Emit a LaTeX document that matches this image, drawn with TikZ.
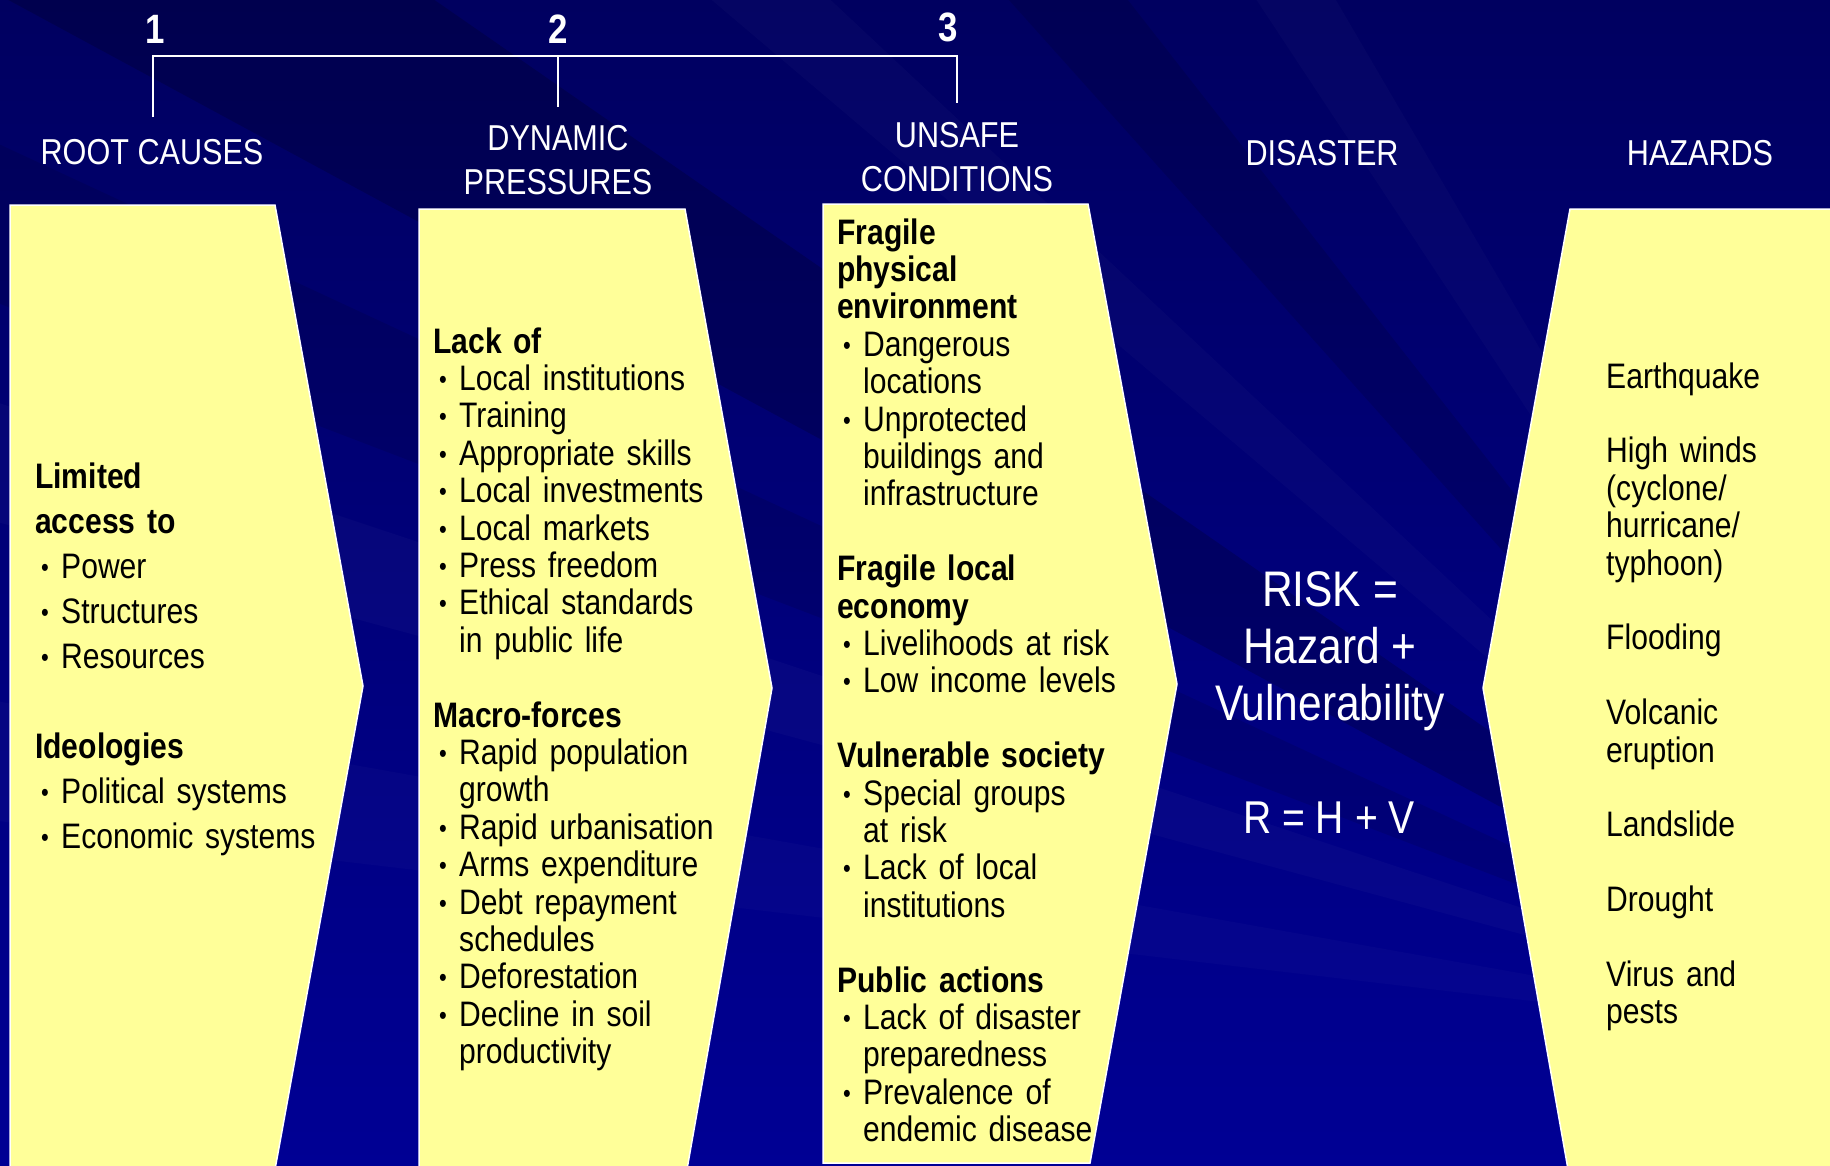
\documentclass[tikz,border=0pt]{standalone}
\usepackage{fontspec}
\setmainfont{Liberation Sans}[FakeStretch=0.85]
\definecolor{navydark}{RGB}{0,0,96}
\definecolor{navylight}{RGB}{0,0,148}
\definecolor{paleyellow}{RGB}{255,255,153}
% bullet and continuation indent for the column lists
\newcommand{\bl}{\hspace*{6pt}\makebox[20pt][l]{\fontsize{26}{26}\selectfont\raisebox{2pt}{•}}}
\newcommand{\cn}{\hspace*{26pt}}
\newcommand{\colgap}{37.4pt}
\begin{document}
\begin{tikzpicture}[x=1pt, y=-1pt,
    panel/.style={fill=paleyellow, draw=white, line width=1.5pt, line join=miter},
    head/.style={text=white, font=\fontsize{36}{44}\selectfont, align=center, inner sep=0pt},
    num/.style={text=white, font=\bfseries\fontsize{41}{41}\selectfont, inner sep=0pt, anchor=base},
    body/.style={text=black, font=\fontsize{35.4}{37.4}\selectfont, align=left, text width=400pt, inner sep=0pt, anchor=base west},
    risk/.style={text=white, font=\fontsize{50}{57}\selectfont, align=center, inner sep=0pt},
    bracket/.style={white, line width=2pt}
  ]
  \useasboundingbox (0,0) rectangle (1830,1165);

  % background with faint rays
  \shade[top color=navydark, bottom color=navylight] (0,0) rectangle (1830,1165);
  \coordinate (F) at (1950,1050);
  \fill[black, opacity=0.18] (F) -- (-10,-10) -- (420,-10) -- cycle;
  \fill[black, opacity=0.10] (F) -- (-10,140) -- (-10,300) -- cycle;
  \fill[white, opacity=0.025] (F) -- (-10,400) -- (-10,520) -- cycle;
  \fill[white, opacity=0.02] (F) -- (-10,700) -- (-10,820) -- cycle;
  \fill[white, opacity=0.02] (F) -- (700,-10) -- (820,-10) -- cycle;
  \fill[black, opacity=0.12] (F) -- (1000,-10) -- (1120,-10) -- cycle;
  \fill[white, opacity=0.02] (F) -- (1250,-10) -- (1330,-10) -- cycle;

  % yellow panels
  \draw[panel] (10,205) -- (275,205) -- (363,686) -- (274,1175) -- (10,1175) -- cycle;
  \draw[panel] (419,209) -- (685,209) -- (772,688) -- (686,1175) -- (419,1175) -- cycle;
  \draw[panel] (823,204) -- (1088,204) -- (1177,684) -- (1090,1163) -- (823,1163) -- cycle;
  \draw[panel] (1570,209) -- (1845,209) -- (1845,1175) -- (1569,1175) -- (1483,688) -- cycle;

  % numbers and headers
  \node[num] (n1) at (155,43) {1};
  \node[num] (n2) at (558,43) {2};
  \node[num] (n3) at (948,41) {3};
  \node[head] (h1) at (152,152) {ROOT CAUSES};
  \node[head] (h2) at (558,160) {DYNAMIC\\PRESSURES};
  \node[head] (h3) at (957,157) {UNSAFE\\CONDITIONS};
  \node[head] (h4) at (1322,153) {DISASTER};
  \node[head] (h5) at (1700,153) {HAZARDS};

  % bracket joining 1, 2, 3
  \coordinate (t1) at (153,56);
  \coordinate (t2) at (558,56);
  \coordinate (t3) at (957,56);
  \coordinate (k1) at (153,117);
  \coordinate (k2) at (558,107);
  \coordinate (k3) at (957,103);
  \draw[bracket] (k1) -- (t1) -- (t3) -- (k3);
  \draw[bracket] (t2) -- (k2);

  % column texts
  \node[body, font=\fontsize{35.4}{45}\selectfont] (roots) at (35,488) {%
    \textbf{Limited}\\
    \textbf{access to}\\
    \bl Power\\
    \bl Structures\\
    \bl Resources\\[45pt]
    \textbf{Ideologies}\\
    \bl Political systems\\
    \bl Economic systems};

  \node[body] (press) at (433,353) {%
    \textbf{Lack of}\\
    \bl Local institutions\\
    \bl Training\\
    \bl Appropriate skills\\
    \bl Local investments\\
    \bl Local markets\\
    \bl Press freedom\\
    \bl Ethical standards\\
    \cn in public life\\[\colgap]
    \textbf{Macro-forces}\\
    \bl Rapid population\\
    \cn growth\\
    \bl Rapid urbanisation\\
    \bl Arms expenditure\\
    \bl Debt repayment\\
    \cn schedules\\
    \bl Deforestation\\
    \bl Decline in soil\\
    \cn productivity};

  \node[body] (unsafe) at (837,244) {%
    \textbf{Fragile}\\
    \textbf{physical}\\
    \textbf{environment}\\
    \bl Dangerous\\
    \cn locations\\
    \bl Unprotected\\
    \cn buildings and\\
    \cn infrastructure\\[\colgap]
    \textbf{Fragile local}\\
    \textbf{economy}\\
    \bl Livelihoods at risk\\
    \bl Low income levels\\[\colgap]
    \textbf{Vulnerable society}\\
    \bl Special groups\\
    \cn at risk\\
    \bl Lack of local\\
    \cn institutions\\[\colgap]
    \textbf{Public actions}\\
    \bl Lack of disaster\\
    \cn preparedness\\
    \bl Prevalence of\\
    \cn endemic disease};

  \node[body] (hazards) at (1606,388) {%
    Earthquake\\[\colgap]
    High winds\\
    (cyclone/\\
    hurricane/\\
    typhoon)\\[\colgap]
    Flooding\\[\colgap]
    Volcanic\\
    eruption\\[\colgap]
    Landslide\\[\colgap]
    Drought\\[\colgap]
    Virus and\\
    pests};

  % risk formula
  \node[risk] (r1) at (1330,651) {RISK =\\Hazard +\\Vulnerability};
  \node[risk, font=\fontsize{46}{57}\selectfont] (r2) at (1329,818) {R = H + V};

\end{tikzpicture}
\end{document}
